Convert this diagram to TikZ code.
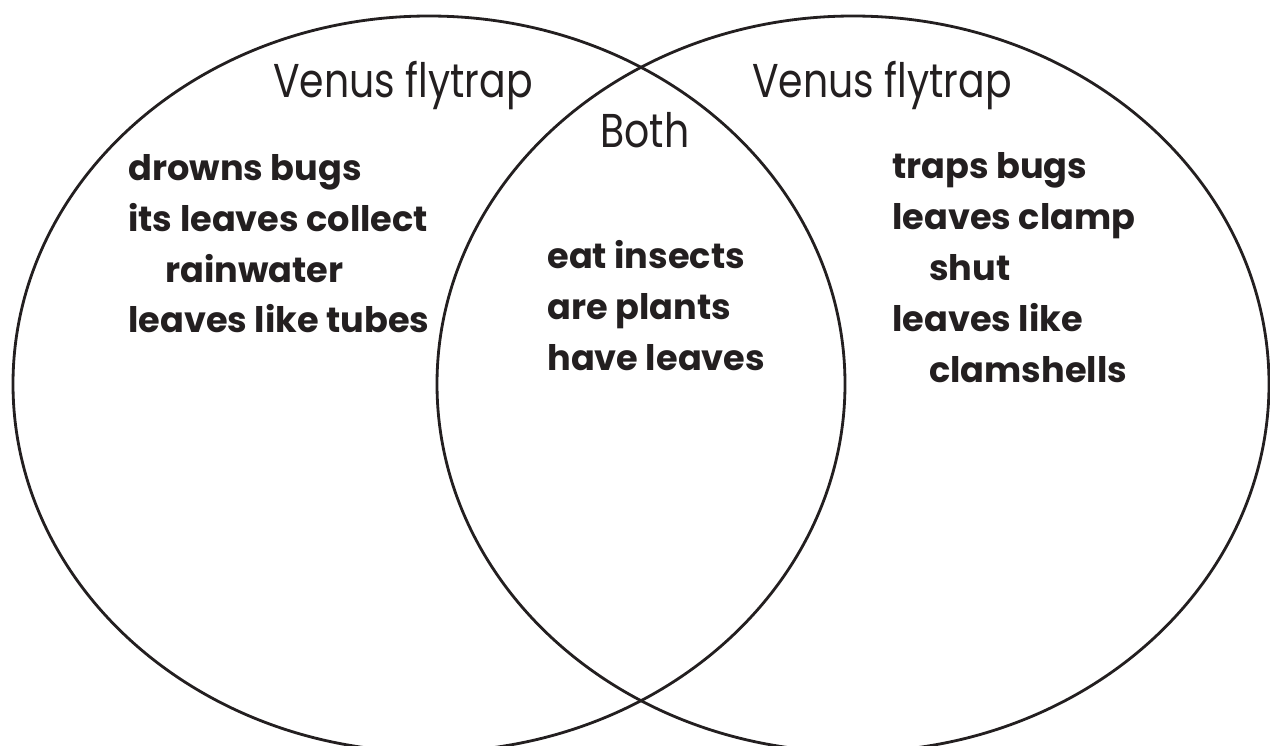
\documentclass[tikz,border=0pt]{standalone}
\usepackage{fontspec}
\setmainfont{Poppins}
\newfontfamily\headfont[FakeStretch=0.83]{Poppins}
\definecolor{ink}{HTML}{231F20}
\begin{document}
\begin{tikzpicture}[x=0.02cm,y=-0.02cm,
    ring/.style={draw=ink,line width=1.6pt},
    head/.style={text=ink,inner sep=0pt,anchor=base west,
      font=\headfont\fontsize{27}{32}\selectfont},
    facts/.style={text=ink,inner sep=0pt,anchor=base west,align=left,
      font=\bfseries\fontsize{20}{29}\selectfont}]
  \useasboundingbox (0,0) rectangle (1270,746);
  % the two sets
  \draw[ring] (429,384) ellipse [x radius=416, y radius=368];
  \draw[ring] (853,384) ellipse [x radius=416, y radius=368];
  % headings
  \node[head] (hl) at (273,98) {Venus flytrap};
  \node[head] (hr) at (752,98) {Venus flytrap};
  \node[head] (hb) at (600,148) {Both};
  % what each one has (anchored at the last line)
  \node[facts] (fl) at (128,333) {drowns bugs\\its leaves collect\\
    \hspace*{1.05em}rainwater\\leaves like tubes};
  \node[facts] (fb) at (547,370) {eat insects\\are plants\\have leaves};
  \node[facts] (fr) at (892,382) {traps bugs\\leaves clamp\\
    \hspace*{1.05em}shut\\leaves like\\\hspace*{1.05em}clamshells};
\end{tikzpicture}
\end{document}
